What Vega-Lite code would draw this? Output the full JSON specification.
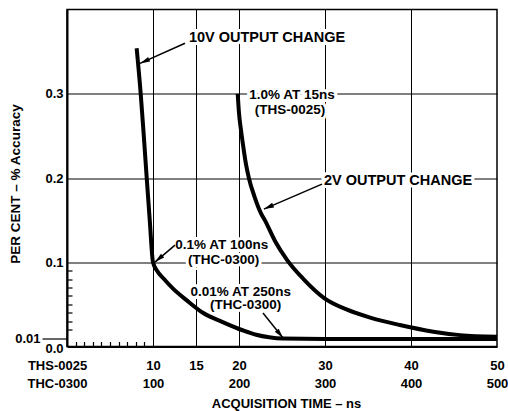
{
  "$schema": "https://vega.github.io/schema/vega-lite/v6.json",
  "width": 430,
  "height": 337,
  "autosize": {"type": "none"},
  "padding": {"left": 67, "top": 9.5, "right": 11, "bottom": 64.5},
  "background": "white",
  "config": {
    "view": {"stroke": "black", "strokeWidth": 1.5},
    "font": "Liberation Sans",
    "axis": {
      "labelFont": "Liberation Sans",
      "labelFontWeight": "bold",
      "labelFontSize": 13,
      "labelColor": "black",
      "titleFont": "Liberation Sans",
      "titleFontWeight": "bold",
      "titleFontSize": 13,
      "titleColor": "black",
      "domainColor": "black",
      "domainWidth": 2,
      "tickColor": "black",
      "tickWidth": 1.2,
      "gridColor": "black",
      "gridWidth": 1,
      "labelOverlap": false,
      "labelFlush": false,
      "labelBound": false
    }
  },
  "datasets": {
    "curves": [
      {"series": "10V", "x": 8.1, "y": 0.354},
      {"series": "10V", "x": 8.57, "y": 0.30},
      {"series": "10V", "x": 8.93, "y": 0.25},
      {"series": "10V", "x": 9.27, "y": 0.20},
      {"series": "10V", "x": 9.62, "y": 0.15},
      {"series": "10V", "x": 10.0, "y": 0.10},
      {"series": "10V", "x": 10.47, "y": 0.090},
      {"series": "10V", "x": 11.2, "y": 0.081},
      {"series": "10V", "x": 12.3, "y": 0.069},
      {"series": "10V", "x": 13.9, "y": 0.055},
      {"series": "10V", "x": 15.8, "y": 0.040},
      {"series": "10V", "x": 18.1, "y": 0.029},
      {"series": "10V", "x": 20.5, "y": 0.019},
      {"series": "10V", "x": 22.0, "y": 0.014},
      {"series": "10V", "x": 23.5, "y": 0.011},
      {"series": "10V", "x": 25.1, "y": 0.0095},
      {"series": "10V", "x": 30, "y": 0.009},
      {"series": "10V", "x": 40, "y": 0.009},
      {"series": "10V", "x": 50, "y": 0.009},
      {"series": "2V", "x": 19.85, "y": 0.300},
      {"series": "2V", "x": 20.0, "y": 0.277},
      {"series": "2V", "x": 20.23, "y": 0.257},
      {"series": "2V", "x": 20.5, "y": 0.237},
      {"series": "2V", "x": 20.8, "y": 0.217},
      {"series": "2V", "x": 21.16, "y": 0.1995},
      {"series": "2V", "x": 21.8, "y": 0.178},
      {"series": "2V", "x": 22.56, "y": 0.158},
      {"series": "2V", "x": 23.0, "y": 0.150},
      {"series": "2V", "x": 24.2, "y": 0.125},
      {"series": "2V", "x": 25.6, "y": 0.1026},
      {"series": "2V", "x": 27.5, "y": 0.080},
      {"series": "2V", "x": 29.9, "y": 0.0575},
      {"series": "2V", "x": 32.5, "y": 0.044},
      {"series": "2V", "x": 35.35, "y": 0.034},
      {"series": "2V", "x": 38.7, "y": 0.0255},
      {"series": "2V", "x": 42.6, "y": 0.0176},
      {"series": "2V", "x": 45.7, "y": 0.0135},
      {"series": "2V", "x": 50, "y": 0.0115}
    ],
    "notes": [
      {"x": 23.26, "y": 0.366, "text": "10V OUTPUT CHANGE"},
      {"x": 26.16, "y": 0.2986, "text": "1.0% AT 15ns"},
      {"x": 25.93, "y": 0.2806, "text": "(THS-0025)"},
      {"x": 38.5, "y": 0.1964, "text": "2V OUTPUT CHANGE"},
      {"x": 18.0, "y": 0.1204, "text": "0.1% AT 100ns"},
      {"x": 18.2, "y": 0.1026, "text": "(THC-0300)"},
      {"x": 20.2, "y": 0.0647, "text": "0.01% AT 250ns"},
      {"x": 20.76, "y": 0.0492, "text": "(THC-0300)"}
    ],
    "arrows": [
      {"x": 13.72, "y": 0.360, "x2": 8.49, "y2": 0.336},
      {"x": 29.65, "y": 0.1928, "x2": 22.9, "y2": 0.1631},
      {"x": 12.56, "y": 0.1204, "x2": 10.23, "y2": 0.1002},
      {"x": 22.79, "y": 0.0397, "x2": 25.12, "y2": 0.0101}
    ]
  },
  "layer": [
    {
      "data": {"name": "notes"},
      "mark": {"type": "text", "font": "Liberation Sans", "fontWeight": "bold", "align": "center", "baseline": "middle", "fill": "white", "stroke": "white", "strokeWidth": 6},
      "encoding": {
        "x": {
          "field": "x", "type": "quantitative",
          "scale": {"domain": [0, 50], "nice": false, "zero": false},
          "axis": {
            "title": "ACQUISITION TIME – ns",
            "titleX": 219,
            "titleY": 56.5,
            "titleBaseline": "middle",
            "values": [0, 1, 2, 3, 4, 5, 6, 7, 8, 9, 10, 15, 20, 30, 40, 50],
            "tickCount": 100,
            "labelExpr": "datum.value == 0 ? ['THS-0025', 'THC-0300'] : datum.value == 15 ? ['15', ''] : (datum.value >= 10 ? [format(datum.value, 'd'), format(datum.value * 10, 'd')] : '')",
            "labelBaseline": "top",
            "labelLineHeight": 18,
            "labelPadding": 13,
            "labelOffset": {"condition": {"test": "datum.value == 0", "value": -10}, "value": 0},
            "tickSize": {"condition": {"test": "datum.value >= 1 && datum.value <= 9", "value": -5}, "value": 0},
            "grid": true,
            "gridOpacity": {"condition": {"test": "datum.value >= 10 && datum.value <= 40", "value": 1}, "value": 0}
          }
        },
        "y": {
          "field": "y", "type": "quantitative",
          "scale": {"domain": [0, 0.4], "nice": false, "zero": false},
          "axis": {
            "title": "PER CENT – % Accuracy",
            "titleX": -52,
            "titleY": 174,
            "titleBaseline": "middle",
            "titleFontSize": 13.5,
            "values": [0, 0.01, 0.02, 0.03, 0.04, 0.05, 0.06, 0.07, 0.08, 0.09, 0.1, 0.2, 0.3],
            "tickCount": 100,
            "labelExpr": "datum.value < 0.005 ? '0.0' : abs(datum.value - 0.01) < 0.001 ? '0.01' : datum.value > 0.095 ? format(datum.value, '.1f') : ''",
            "labelBaseline": "middle",
            "labelPadding": {"condition": {"test": "abs(datum.value - 0.01) < 0.001", "value": 2}, "value": 4},
            "labelOffset": {"condition": {"test": "datum.value < 0.005", "value": 2}, "value": 0},
            "tickSize": {"condition": [{"test": "abs(datum.value - 0.01) < 0.001", "value": 25}, {"test": "datum.value > 0.015 && datum.value < 0.095", "value": -5}], "value": 0},
            "grid": true,
            "gridOpacity": {"condition": {"test": "datum.value > 0.095", "value": 1}, "value": 0}
          }
        },
        "text": {"field": "text", "type": "nominal"},
        "size": {"condition": {"test": "indexof(datum.text, 'OUTPUT') >= 0", "value": 14.5}, "value": 13.5}
      }
    },
    {
      "data": {"name": "curves"},
      "mark": {"type": "line", "color": "black", "strokeWidth": 4, "interpolate": "monotone", "strokeCap": "butt"},
      "encoding": {
        "x": {"field": "x", "type": "quantitative"},
        "y": {"field": "y", "type": "quantitative"},
        "detail": {"field": "series", "type": "nominal"}
      }
    },
    {
      "data": {"name": "arrows"},
      "mark": {"type": "rule", "color": "black", "strokeWidth": 1.5},
      "encoding": {
        "x": {"field": "x", "type": "quantitative"},
        "y": {"field": "y", "type": "quantitative"},
        "x2": {"field": "x2"},
        "y2": {"field": "y2"}
      }
    },
    {
      "data": {"name": "arrows"},
      "transform": [
        {"calculate": "atan2((datum.x2 - datum.x) * 8.6, (datum.y2 - datum.y) * 842.5) * 180 / PI", "as": "angle"}
      ],
      "mark": {"type": "point", "shape": "M0,0L0.5,2L-0.5,2Z", "filled": true, "fill": "black", "strokeWidth": 0, "opacity": 1, "size": 100},
      "encoding": {
        "x": {"field": "x2", "type": "quantitative"},
        "y": {"field": "y2", "type": "quantitative"},
        "angle": {"field": "angle", "type": "quantitative", "scale": null}
      }
    },
    {
      "data": {"name": "notes"},
      "mark": {"type": "text", "font": "Liberation Sans", "fontWeight": "bold", "align": "center", "baseline": "middle", "fill": "black"},
      "encoding": {
        "x": {"field": "x", "type": "quantitative"},
        "y": {"field": "y", "type": "quantitative"},
        "text": {"field": "text", "type": "nominal"},
        "size": {"condition": {"test": "indexof(datum.text, 'OUTPUT') >= 0", "value": 14.5}, "value": 13.5}
      }
    }
  ]
}
